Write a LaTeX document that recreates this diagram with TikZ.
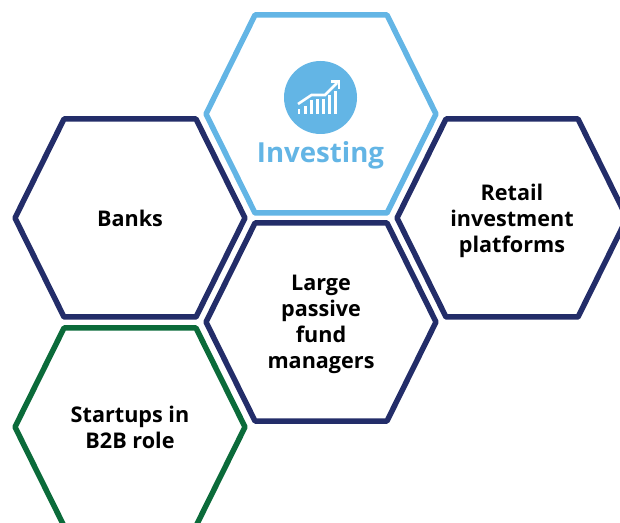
\documentclass[tikz,border=0pt]{standalone}
\usepackage{fontspec}
\setmainfont{Open Sans}
\usetikzlibrary{positioning}
\definecolor{navyline}{HTML}{232D69}
\definecolor{skyline}{HTML}{63B5E5}
\definecolor{greenline}{HTML}{0B6B3A}
\tikzset{
	hexcell/.style={inner sep=0pt,align=center,text depth=0pt,font=\fontsize{21.6pt}{26pt}\selectfont\bfseries,text=black},
	hexline/.style={line width=5.5pt,line join=round},
	iconbar/.style={draw=white,line width=2.6pt},
}
\begin{document}
\begin{tikzpicture}[x=1pt,y=1pt]
	\useasboundingbox (0,0) rectangle (620,522);
	\node [hexcell] (investing) at (321,408) {};
	\node [hexcell] (banks) at (130,304) {Banks};
	\node [hexcell] (retail) at (512,304) {Retail\\investment\\platforms};
	\node [hexcell] (passive) at (321,200) {Large\\passive\\fund\\managers};
	\node [hexcell] (startups) at (130,95) {Startups in\\B2B role};
	% outlines
	\foreach \cell/\cellcolor in {investing/skyline,banks/navyline,retail/navyline,passive/navyline,startups/greenline}
		\draw [hexline,draw=\cellcolor] ([shift={(-115,0)}]\cell.center) -- ([shift={(-66,99)}]\cell.center) -- ([shift={(66,99)}]\cell.center) -- ([shift={(115,0)}]\cell.center) -- ([shift={(66,-99)}]\cell.center) -- ([shift={(-66,-99)}]\cell.center) -- cycle;
	% icon
	\node [circle,fill=skyline,minimum size=73pt,inner sep=0pt] (icon) at (320.5,424.5) {};
	\node [below=-3pt of icon,text=skyline,yshift=-7pt,font=\fontsize{27.6pt}{30pt}\selectfont\bfseries] (investinglabel) {Investing};
	\foreach \barx/\bartop in {299/413,305.3/416,311.2/422,317.2/423,323.3/423,329.3/427,335.7/431}
		\draw [iconbar] (\barx,408) -- (\barx,\bartop);
	\draw [draw=white,line width=2.6pt] (298,418) -- (311.5,427) -- (325,427) -- (337,439);
	\draw [draw=white,line width=2.6pt] (331,440.5) -- (339,440.5) -- (339,432.5);
\end{tikzpicture}
\end{document}
